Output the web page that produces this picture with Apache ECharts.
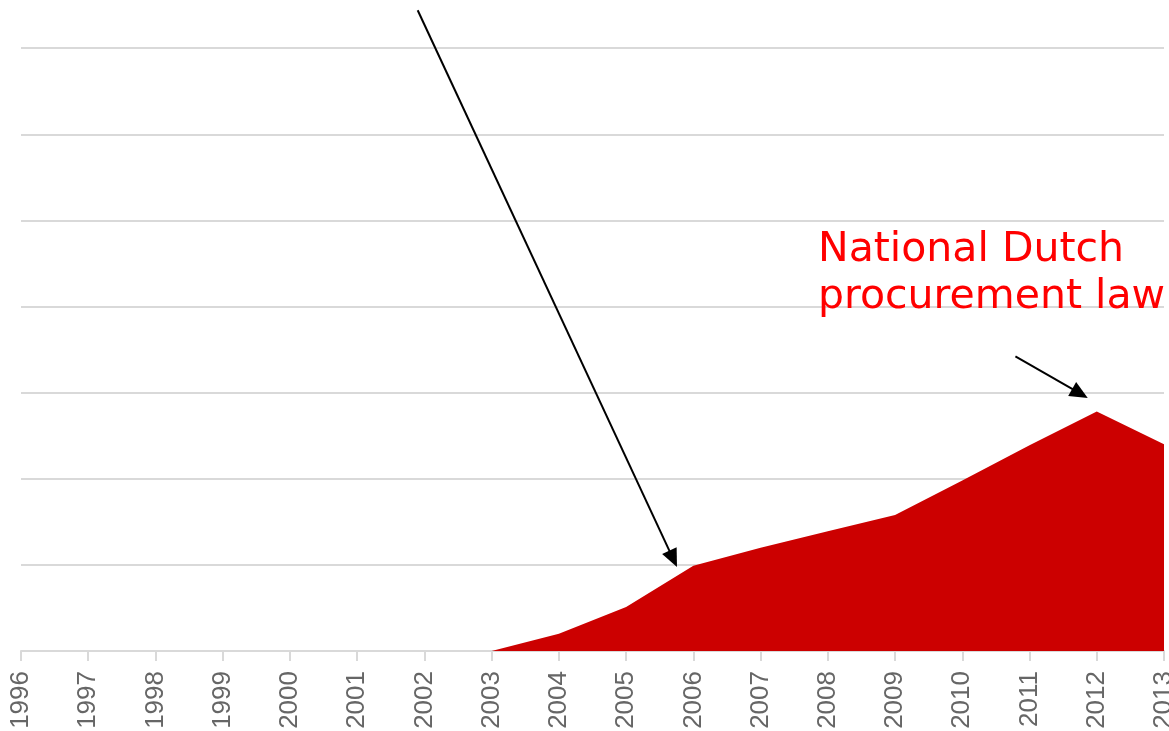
<!DOCTYPE html>
<html>
<head>
<meta charset="utf-8">
<script src="https://cdn.jsdelivr.net/npm/echarts@6/dist/echarts.min.js"></script>
<style>
  html, body { margin: 0; padding: 0; background: #fff; }
  #chart { width: 1169px; height: 731px; }
</style>
</head>
<body>
<div id="chart"></div>
<script>
// yearly values (no y labels in the source, units = one gridline step)
const years = [2003, 2004, 2005, 2006, 2007, 2008, 2009, 2010, 2011, 2012, 2013]
const values = [0, 0.2, 0.51, 0.99, 1.2, 1.39, 1.58, 1.98, 2.39, 2.78, 2.4]

// annotation arrows, [from, to] in data coords
const arrows = [
  [[2001.9, 7.44], [2005.7, 1.07]],
  [[2010.79, 3.42], [2011.75, 2.99]],
]

const labelText = 'National Dutch\nprocurement law'

const chart = echarts.init(document.getElementById('chart'))

const option = {
  animation: false,
  grid: {
    left: 21,
    right: 5,
    top: -38,
    bottom: 80,
    outerBoundsMode: 'none',
    containLabel: false,
  },
  xAxis: {
    type: 'value',
    min: 1996,
    max: 2013,
    interval: 1,
    splitLine: { show: false },
    axisLine: {
      show: true,
      lineStyle: { color: '#d9d9d9', width: 2 },
    },
    axisTick: {
      show: true,
      length: 10,
      lineStyle: { color: '#d9d9d9', width: 2 },
    },
    axisLabel: {
      rotate: 90,
      margin: 20,
      color: '#666',
      fontSize: 26,
      fontFamily: '"Liberation Sans", Arial, sans-serif',
      formatter: (v) => String(v),
    },
  },
  yAxis: {
    type: 'value',
    min: 0,
    max: 8,
    interval: 1,
    axisLabel: { show: false },
    axisLine: { show: false },
    axisTick: { show: false },
    splitLine: {
      lineStyle: { color: '#d9d9d9', width: 2 },
    },
  },
  series: [
    {
      type: 'line',
      data: years.map((y, i) => [y, values[i]]),
      symbol: 'none',
      lineStyle: { width: 0 },
      areaStyle: { color: '#cc0000', opacity: 1 },
      markLine: {
        silent: true,
        symbol: ['none', 'triangle'],
        symbolSize: [16, 18],
        label: { show: false },
        lineStyle: { color: '#000', width: 2, type: 'solid' },
        data: arrows.map(a => [{ coord: a[0] }, { coord: a[1] }]),
      },
    },
  ],
  graphic: [
    {
      type: 'text',
      left: 818,
      top: 227,
      z: 100,
      style: {
        text: labelText,
        font: '41px "DejaVu Sans"',
        fill: '#ff0000',
        lineHeight: 47,
      },
    },
  ],
}

chart.setOption(option)
</script>
</body>
</html>
